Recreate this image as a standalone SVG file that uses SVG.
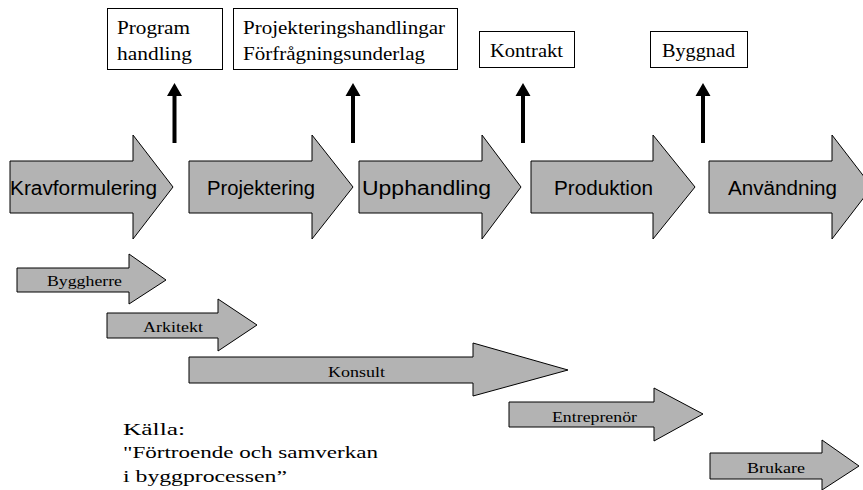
<svg xmlns="http://www.w3.org/2000/svg" width="863" height="490" viewBox="0 0 863 490">
<style>
.ar{fill:#b3b3b3;stroke:#000;stroke-width:1}
.bx{fill:#fff;stroke:#000;stroke-width:1}
.up{fill:#000}
.big{font-family:"Liberation Sans",Arial,sans-serif;font-size:19.5px;fill:#000}
.tm{font-family:"Liberation Serif","Times New Roman",serif;font-size:19px;fill:#000}
.sm{font-family:"Liberation Serif","Times New Roman",serif;font-size:15px;fill:#000}
.src{font-family:"Liberation Serif","Times New Roman",serif;font-size:16px;fill:#000}
</style>
<rect width="863" height="490" fill="#fff"/>
<g id="phases">
<g id="kravformulering"><polygon class="ar" points="10,161 133,161 133,135 173,187 133,239 133,213 10,213"/><text class="big" x="10" y="195" textLength="147" lengthAdjust="spacingAndGlyphs">Kravformulering</text></g>
<g id="projektering"><polygon class="ar" points="189,161 312,161 312,135 353,187 312,239 312,213 189,213"/><text class="big" x="207" y="195" textLength="108" lengthAdjust="spacingAndGlyphs">Projektering</text></g>
<g id="upphandling"><polygon class="ar" points="359,161 482,161 482,135 521,187 482,239 482,213 359,213"/><text class="big" x="362" y="195" textLength="129" lengthAdjust="spacingAndGlyphs">Upphandling</text></g>
<g id="produktion"><polygon class="ar" points="531,161 653,161 653,135 695,187 653,239 653,213 531,213"/><text class="big" x="554" y="195" textLength="99" lengthAdjust="spacingAndGlyphs">Produktion</text></g>
<g id="anvandning"><polygon class="ar" points="709,161 832,161 832,135 872,187 832,239 832,213 709,213"/><text class="big" x="728" y="195" textLength="109" lengthAdjust="spacingAndGlyphs">Användning</text></g>
</g>
<g id="outputs">
<g id="programhandling"><rect class="bx" x="107.5" y="8.5" width="115" height="61"/><text class="tm" x="117" y="34" textLength="73" lengthAdjust="spacingAndGlyphs">Program</text><text class="tm" x="117" y="60" textLength="75" lengthAdjust="spacingAndGlyphs">handling</text></g>
<g id="projekteringshandlingar"><rect class="bx" x="233.5" y="8.5" width="224" height="61"/><text class="tm" x="243" y="34" textLength="202" lengthAdjust="spacingAndGlyphs">Projekteringshandlingar</text><text class="tm" x="243" y="60" textLength="182" lengthAdjust="spacingAndGlyphs">Förfrågningsunderlag</text></g>
<g id="kontrakt"><rect class="bx" x="479.5" y="31.5" width="95" height="36"/><text class="tm" x="490" y="57" textLength="73" lengthAdjust="spacingAndGlyphs">Kontrakt</text></g>
<g id="byggnad"><rect class="bx" x="650.5" y="31.5" width="97" height="36"/><text class="tm" x="662" y="57" textLength="73" lengthAdjust="spacingAndGlyphs">Byggnad</text></g>
</g>
<g id="connectors">
<polygon class="up" points="172.5,143 172.5,96 167,96 174.5,83 182,96 176.5,96 176.5,143"/>
<polygon class="up" points="351,143 351,96 345.5,96 353,83 360.5,96 355,96 355,143"/>
<polygon class="up" points="521,143 521,96 515.5,96 523,83 530.5,96 525,96 525,143"/>
<polygon class="up" points="701,143 701,96 695.5,96 703,83 710.5,96 705,96 705,143"/>
</g>
<g id="actors">
<g id="byggherre"><polygon class="ar" points="17,268 129,268 129,254 166,280 129,304 129,292 17,292"/><text class="sm" x="47" y="286" textLength="75" lengthAdjust="spacingAndGlyphs">Byggherre</text></g>
<g id="arkitekt"><polygon class="ar" points="107,313 218,313 218,299 257,325 218,351 218,338 107,338"/><text class="sm" x="143" y="332" textLength="60" lengthAdjust="spacingAndGlyphs">Arkitekt</text></g>
<g id="konsult"><polygon class="ar" points="189,357 473,357 473,343 568,370 473,396 473,383 189,383"/><text class="sm" x="328" y="377" textLength="57" lengthAdjust="spacingAndGlyphs">Konsult</text></g>
<g id="entreprenor"><polygon class="ar" points="509,402 654,402 654,388 703,414 654,441 654,427 509,427"/><text class="sm" x="552" y="422" textLength="85" lengthAdjust="spacingAndGlyphs">Entreprenör</text></g>
<g id="brukare"><polygon class="ar" points="710,453 822,453 822,440 859,466 822,490 822,479 710,479"/><text class="sm" x="747" y="473" textLength="58" lengthAdjust="spacingAndGlyphs">Brukare</text></g>
</g>
<g id="source">
<text class="src" x="123" y="435" textLength="62" lengthAdjust="spacingAndGlyphs">Källa:</text>
<text class="src" x="123" y="458" textLength="255" lengthAdjust="spacingAndGlyphs">"Förtroende och samverkan</text>
<text class="src" x="123" y="482" textLength="164" lengthAdjust="spacingAndGlyphs">i byggprocessen”</text>
</g>
</svg>
